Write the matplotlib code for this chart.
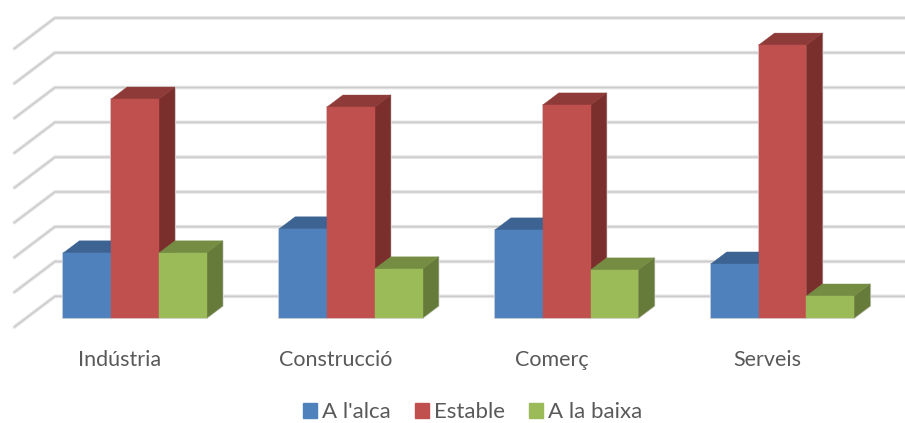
import matplotlib

matplotlib.use("Agg")
import matplotlib.pyplot as plt
from matplotlib.patches import Patch, Polygon

plt.rcParams["font.family"] = ["Lato", "DejaVu Sans"]

categories = ["Indústria", "Construcció", "Comerç", "Serveis"]
series_names = ["A l'alca", "Estable", "A la baixa"]
alca = [18.7, 25.6, 25.3, 15.5]
estable = [62.9, 60.6, 61.2, 78.4]
baixa = [18.7, 14.1, 13.8, 6.3]
gridlines = [0, 10, 20, 30, 40, 50, 60, 70, 80]

front_colors = ["#4F81BD", "#C0504D", "#9BBB59"]
top_colors = ["#3C6391", "#8E3A38", "#758D43"]
side_colors = ["#335480", "#7B2F2D", "#667A3A"]

# oblique projection: depth d moves a point right and up
DX = 0.19
DY = 8.9
BAR_W = 0.2215
BAR_D = 0.39
WALL_D = 0.70
FLOOR_D = -0.29


def proj(x, v, d):
    return (x + d * DX, v + d * DY)


def draw_bar(ax, x, v, i):
    x2 = x + BAR_W
    side = [proj(x2, 0, 0), proj(x2, 0, BAR_D), proj(x2, v, BAR_D), proj(x2, v, 0)]
    top = [proj(x, v, 0), proj(x2, v, 0), proj(x2, v, BAR_D), proj(x, v, BAR_D)]
    front = [proj(x, 0, 0), proj(x2, 0, 0), proj(x2, v, 0), proj(x, v, 0)]
    # faint shadow round the bar
    for shape in (side, front):
        ax.add_patch(Polygon(shape, fc="none", ec="#dcdcdc", lw=1.4, zorder=2.5))
    ax.add_patch(Polygon(side, fc=side_colors[i], ec=side_colors[i], lw=0.3, zorder=3))
    ax.add_patch(Polygon(top, fc=top_colors[i], ec=top_colors[i], lw=0.3, zorder=3))
    ax.add_patch(Polygon(front, fc=front_colors[i], ec=front_colors[i], lw=0.3, zorder=3))


fig = plt.figure(figsize=(9.05, 4.23), dpi=100)
ax = fig.add_axes([0, 0, 1, 1])
ax.set_xlim(-0.6256, 3.568)
ax.set_ylim(-30.17, 91.38)
ax.axis("off")

x_wall = -0.504
for g in gridlines:
    xs = [proj(x_wall, g, FLOOR_D)[0], proj(x_wall, g, WALL_D)[0], 4.0]
    ys = [proj(x_wall, g, FLOOR_D)[1], proj(x_wall, g, WALL_D)[1], proj(x_wall, g, WALL_D)[1]]
    ax.plot(xs, ys, color="#e4e4e4", lw=2.6, zorder=1, solid_capstyle="round")
    ax.plot(xs, ys, color="#cbcbcb", lw=1.0, zorder=2, solid_capstyle="round")

all_series = [alca, estable, baixa]
for k in range(len(categories)):
    for i, values in enumerate(all_series):
        draw_bar(ax, k + (i - 1.5) * BAR_W, values[k], i)
    ax.text(k - 0.07, -12.0, categories[k], ha="center", va="center", fontsize=15.5, color="#595959")

handles = [Patch(fc=c, ec=c) for c in front_colors]
fig.legend(
    handles,
    series_names,
    loc="lower center",
    bbox_to_anchor=(0.522, 0.002),
    ncol=3,
    frameon=False,
    fontsize=16,
    labelcolor="#595959",
    handlelength=0.63,
    handleheight=0.63,
    handletextpad=0.225,
    columnspacing=1.08,
    borderpad=0,
    borderaxespad=0,
)

fig.savefig("out.png", dpi=100)
